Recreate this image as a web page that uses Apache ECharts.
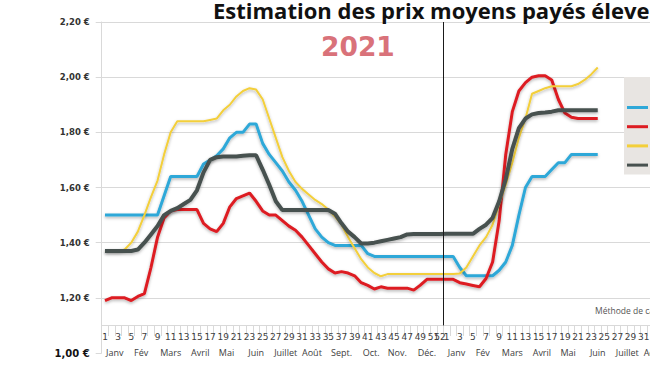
<!DOCTYPE html>
<html><head><meta charset="utf-8">
<script src="https://cdn.jsdelivr.net/npm/echarts@6/dist/echarts.min.js"></script>
<style>html,body{margin:0;padding:0;width:650px;height:366px;overflow:hidden;background:#fff}#c{width:760px;height:366px}</style>
</head><body><div id="c"></div><script>
// Week labels (2021 then 2022)
const weeks2021 = ['1','2','3','4','5','6','7','8','9','10','11','12','13','14','15','16','17','18','19','20','21','22','23','24','25','26','27','28','29','30','31','32','33','34','35','36','37','38','39','40','41','42','43','44','45','46','47','48','49','50','51','52'];
const weeks2022 = ['1','2','3','4','5','6','7','8','9','10','11','12','13','14','15','16','17','18','19','20','21','22','23','24','25','26','27','28','29','30','31','32','33','34','35','36'];
const monthNames = ['Janv','Fév','Mars','Avril','Mai','Juin','Juillet','Août','Sept.','Oct.','Nov.','Déc.'];
const monthWeeks = [4,4,5,4,4,5,4,4,5,4,4,5];

const seriesNames = ['France','Allemagne','Espagne','Pays-Bas'];
// values (€/kg) per week
const france2021 = [1.50,1.50,1.50,1.50,1.50,1.50,1.50,1.50,1.50,1.57,1.64,1.64,1.64,1.64,1.64,1.685,1.70,1.715,1.74,1.78,1.80,1.80,1.83,1.83,1.76,1.72,1.69,1.66,1.62,1.59,1.55,1.50,1.45,1.42,1.40,1.39,1.39,1.39,1.39,1.39,1.36,1.35,1.35,1.35,1.35,1.35,1.35,1.35,1.35,1.35,1.35,1.35];
const france2022 = [1.35,1.35,1.31,1.28,1.28,1.28,1.28,1.28,1.30,1.33,1.39,1.50,1.60,1.64,1.64,1.64,1.665,1.69,1.69,1.72,1.72,1.72,1.72,1.72];
const allemagne2021 = [1.19,1.20,1.20,1.20,1.19,1.205,1.215,1.31,1.42,1.49,1.515,1.52,1.52,1.52,1.52,1.47,1.45,1.44,1.47,1.53,1.56,1.57,1.58,1.55,1.515,1.50,1.50,1.48,1.46,1.445,1.42,1.39,1.36,1.33,1.305,1.29,1.295,1.29,1.28,1.255,1.245,1.232,1.24,1.235,1.235,1.235,1.235,1.228,1.246,1.267,1.267,1.267];
const allemagne2022 = [1.267,1.267,1.255,1.25,1.245,1.24,1.27,1.33,1.48,1.72,1.875,1.95,1.98,2.00,2.005,2.005,1.99,1.92,1.87,1.855,1.85,1.85,1.85,1.85];
const espagne2021 = [1.37,1.37,1.37,1.375,1.40,1.44,1.50,1.565,1.625,1.72,1.80,1.84,1.84,1.84,1.84,1.84,1.845,1.85,1.88,1.90,1.93,1.95,1.96,1.955,1.92,1.85,1.78,1.71,1.66,1.62,1.595,1.575,1.555,1.54,1.52,1.495,1.465,1.42,1.38,1.34,1.31,1.29,1.278,1.286,1.286,1.286,1.286,1.286,1.286,1.286,1.286,1.286];
const espagne2022 = [1.286,1.286,1.288,1.31,1.35,1.39,1.42,1.465,1.54,1.61,1.69,1.78,1.85,1.94,1.95,1.96,1.967,1.967,1.967,1.967,1.975,1.99,2.01,2.035];
const paysbas2021 = [1.37,1.37,1.37,1.37,1.37,1.375,1.40,1.43,1.46,1.50,1.515,1.525,1.54,1.555,1.59,1.655,1.70,1.71,1.712,1.712,1.712,1.715,1.717,1.717,1.665,1.61,1.55,1.518,1.518,1.518,1.518,1.518,1.518,1.518,1.518,1.505,1.47,1.44,1.42,1.397,1.397,1.40,1.405,1.41,1.415,1.42,1.43,1.431,1.431,1.431,1.431,1.431];
const paysbas2022 = [1.432,1.432,1.432,1.432,1.432,1.45,1.465,1.49,1.55,1.63,1.74,1.815,1.85,1.865,1.87,1.872,1.875,1.88,1.88,1.88,1.88,1.88,1.88,1.88];
const colors = ['#2fa8d8','#dd1c22','#f3cf3a','#47514f'];

const categories = weeks2021.concat(weeks2022);
const N = categories.length;
// month labels on half-week positions
const monthCats = new Array(2*N+1).fill('');
let start = 1;
for (let y = 0; y < 2; y++) {
  for (let m = 0; m < 12; m++) {
    const a = start, b = start + monthWeeks[m] - 1;
    const k = a + b - 1;
    if (k < monthCats.length) monthCats[k] = monthNames[m];
    start = b + 1;
  }
}
const values = [france2021.concat(france2022), allemagne2021.concat(allemagne2022), espagne2021.concat(espagne2022), paysbas2021.concat(paysbas2022)];
const widths = [3, 3, 2, 4];

const chart = echarts.init(document.getElementById('c'), null, {renderer:'svg'});
const stepW = 6.57;
const series = values.map((d, i) => ({
  name: seriesNames[i], type: 'line', data: d, xAxisIndex: 0, yAxisIndex: 0,
  symbol: 'none', smooth: false, z: 3 + (i===3?1:0),
  lineStyle: {color: colors[i], width: widths[i], shadowColor: 'rgba(0,0,0,0.3)', shadowBlur: 3, shadowOffsetY: 1.5},
  itemStyle: {color: colors[i]}
}));
series.push({
  type: 'line', xAxisIndex: 2, yAxisIndex: 0, data: [], silent: true,
  markLine: {symbol: 'none', label: {show: false}, silent: true,
    lineStyle: {color: '#1a1a1a', width: 1, type: 'solid'},
    data: [[{coord: [weeks2021.length, 2.2]}, {coord: [weeks2021.length, 1.1]}]]}
});

chart.setOption({
  animation: false,
  textStyle: {fontFamily: 'Open Sans'},
  grid: {left: 101.7, top: 22, width: N*stepW, height: 331},
  title: [{text: 'Estimation des prix moyens payés éleveurs de porcs', left: 213, top: -1, padding: 0,
    textStyle: {fontFamily: 'Open Sans', fontWeight: 'bold', fontSize: 22, color: '#111'}}],
  legend: {
    orient: 'vertical', left: 624, top: 77, data: seriesNames,
    icon: 'rect', itemWidth: 21, itemHeight: 3, itemGap: 8.2,
    backgroundColor: '#e8e5e2', padding: [25, 10, 4, 3],
    textStyle: {fontSize: 11, color: '#333', fontWeight: 'bold'}
  },
  graphic: [
    {type: 'text', left: 321, top: 33, style: {text: '2021', font: 'bold 26.5px "DejaVu Sans"', fill: '#d9727a', shadowColor: 'rgba(0,0,0,0.25)', shadowBlur: 2, shadowOffsetY: 1}},
    {type: 'text', left: 647, top: 81, style: {text: 'Sources', font: 'bold 11px "Open Sans"', fill: '#e0302a'}},
    {type: 'text', left: 595, top: 306, style: {text: 'Méthode de calcul', font: '8.5px "Open Sans"', fill: '#555'}}
  ],
  xAxis: [
    {type: 'category', data: categories, boundaryGap: true, position: 'bottom', offset: -28,
      axisLine: {show: true, lineStyle: {color: '#d9d9d9'}},
      axisTick: {show: true, interval: 0, length: 11, lineStyle: {color: '#d9d9d9'}},
      axisLabel: {interval: (idx, v) => (parseInt(v) % 2 === 1) || v === '52', fontSize: 9, fontFamily: 'DejaVu Sans', color: '#404040', margin: 7},
      splitLine: {show: false}},
    {type: 'category', data: monthCats, boundaryGap: false, position: 'bottom', offset: -28,
      axisLine: {show: false}, axisTick: {show: false},
      axisLabel: {interval: 0, fontSize: 9, color: '#404040', margin: 23},
      splitLine: {show: false}},
    {type: 'value', min: 0, max: N, show: false}
  ],
  yAxis: [{type: 'value', min: 1.0, max: 2.2, interval: 0.2,
    axisLine: {show: true, lineStyle: {color: '#d9d9d9'}},
    axisTick: {show: true, length: 6, lineStyle: {color: '#d9d9d9'}},
    splitLine: {show: true, showMinLine: false, lineStyle: {color: '#d9d9d9'}},
    axisLabel: {margin: 12, color: '#333',
      formatter: v => (Math.abs(v-1) < 1e-9 ? '{b|' : '{a|') + v.toFixed(2).replace('.', ',') + ' €}',
      rich: {a: {fontSize: 8.5, fontWeight: 'bold', fontFamily: 'DejaVu Sans', color: '#333'},
             b: {fontSize: 10, fontWeight: 'bold', fontFamily: 'DejaVu Sans', color: '#111'}}}
  }],
  series: series
});
</script></body></html>
